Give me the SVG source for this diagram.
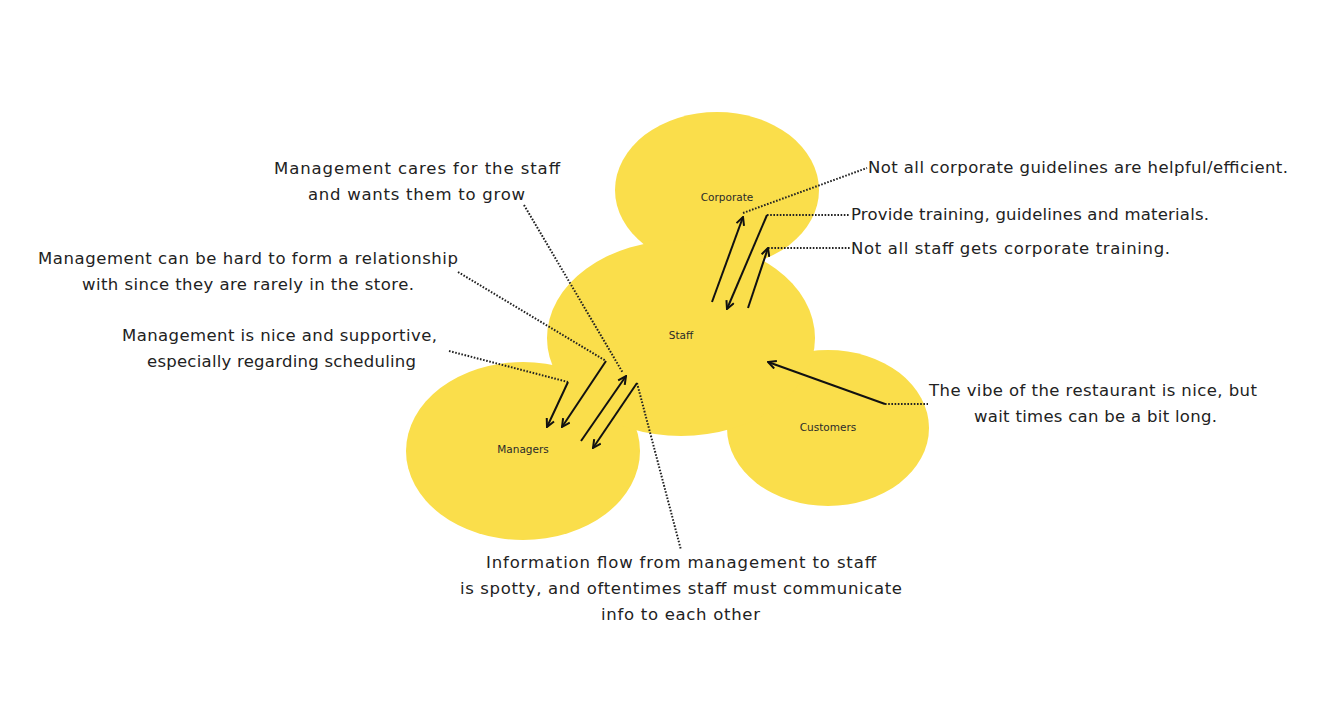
<svg xmlns="http://www.w3.org/2000/svg" width="1325" height="710" viewBox="0 0 1325 710">
<style>
.blob{fill:#FADE4B}
.lbl{font-family:"DejaVu Sans","Liberation Sans",sans-serif;font-size:10.5px;fill:#2a2a2a;text-anchor:middle}
.t{font-family:"DejaVu Sans","Liberation Sans",sans-serif;font-size:16.5px;fill:#222}
.dot{fill:none;stroke:#222;stroke-width:2;stroke-dasharray:1.6 1.6}
.arr{fill:none;stroke:#111;stroke-width:2;marker-end:url(#ah)}
</style>
<defs>
<marker id="ah" viewBox="0 0 10 10" refX="9" refY="5" markerWidth="10" markerHeight="10" markerUnits="userSpaceOnUse" orient="auto">
<path d="M1,1 L9,5 L1,9" fill="none" stroke="#111" stroke-width="2"/>
</marker>
</defs>
<rect width="1325" height="710" fill="#fff"/>
<g id="blobs">
<g id="corporate"><ellipse class="blob" cx="717" cy="190" rx="102" ry="78"/></g>
<g id="managers"><ellipse class="blob" cx="523" cy="451" rx="117" ry="89"/></g>
<g id="customers"><ellipse class="blob" cx="828" cy="428" rx="101" ry="78"/></g>
<g id="staff"><ellipse class="blob" cx="681" cy="338" rx="134" ry="98"/></g>
<text class="lbl" x="727" y="201">Corporate</text>
<text class="lbl" x="681" y="339">Staff</text>
<text class="lbl" x="523" y="453">Managers</text>
<text class="lbl" x="828" y="431">Customers</text>
</g>
<g id="connectors">
<path class="dot" d="M743,213 L867,168"/>
<path class="dot" d="M767,215 L850,215"/>
<path class="dot" d="M768,248 L850,248"/>
<path class="dot" d="M885,404 L928,404"/>
<path class="dot" d="M449,351 L568,382"/>
<path class="dot" d="M458,272 L606,361"/>
<path class="dot" d="M524,205 L623,373"/>
<path class="dot" d="M637,383 L681,550"/>
<path class="arr" d="M712,302 L743,217"/>
<path class="arr" d="M767,215 L727,309"/>
<path class="arr" d="M748,308 L768,248"/>
<path class="arr" d="M885,404 L768,362"/>
<path class="arr" d="M568,382 L547,427"/>
<path class="arr" d="M606,361 L562,427"/>
<path class="arr" d="M581,441 L626,376"/>
<path class="arr" d="M637,383 L593,448"/>
</g>
<g id="notes">
<text class="t" x="274" y="174" textLength="286">Management cares for the staff</text>
<text class="t" x="308" y="200" textLength="217">and wants them to grow</text>
<text class="t" x="38" y="264" textLength="420">Management can be hard to form a relationship</text>
<text class="t" x="82" y="290" textLength="332">with since they are rarely in the store.</text>
<text class="t" x="122" y="341" textLength="315">Management is nice and supportive,</text>
<text class="t" x="147" y="367" textLength="269">especially regarding scheduling</text>
<text class="t" x="868" y="173" textLength="420">Not all corporate guidelines are helpful/efficient.</text>
<text class="t" x="851" y="220" textLength="358">Provide training, guidelines and materials.</text>
<text class="t" x="851" y="254" textLength="319">Not all staff gets corporate training.</text>
<text class="t" x="929" y="396" textLength="328">The vibe of the restaurant is nice, but</text>
<text class="t" x="974" y="422" textLength="243">wait times can be a bit long.</text>
<text class="t" x="486" y="568" textLength="390">Information flow from management to staff</text>
<text class="t" x="460" y="594" textLength="442">is spotty, and oftentimes staff must communicate</text>
<text class="t" x="601" y="620" textLength="159">info to each other</text>
</g>
</svg>
